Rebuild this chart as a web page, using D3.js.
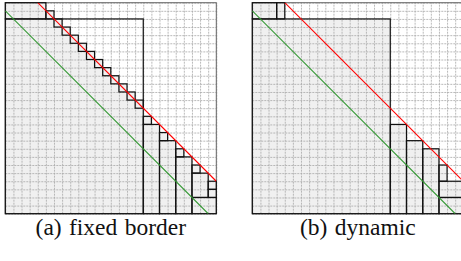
<!DOCTYPE html>
<html>
<head>
<meta charset="utf-8">
<script src="https://cdn.jsdelivr.net/npm/d3@7"></script>
<style>
  body { margin: 0; background: #fff; }
  svg { display: block; }
  .caption { font-family: "Liberation Serif", "Times New Roman", Times, serif; }
</style>
</head>
<body>
<svg id="chart" width="461" height="261"></svg>
<script>
// grid is 26 x 26 cells, coordinates are (column, row), rows going down
const gridCells = 26;
const captions = ["(a) fixed border", "(b) dynamic"];

// top computed row for every column (0..25)
const fixedTop = [0, 0, 0, 0, 0, 1, 2, 3, 4, 5, 6, 7, 8, 9, 10, 11, 12, 14, 15, 16, 17, 18, 19, 20, 21, 22];
const dynamicTop = [0, 0, 0, 0, 2, 2, 2, 2, 2, 2, 2, 2, 2, 2, 2, 2, 2, 15, 15, 17, 17, 18, 18, 20, 22, 22];

// blocks as [col, row, width, height]
const fixedBlocks = [
  [0, 0, 5, 2], [0, 2, 17, 24],
  [5, 1, 1, 1], [6, 2, 1, 1], [7, 3, 1, 1], [8, 4, 1, 1], [9, 5, 1, 1], [10, 6, 1, 1],
  [11, 7, 1, 1], [12, 8, 1, 1], [13, 9, 1, 1], [14, 10, 1, 1], [15, 11, 1, 1], [16, 12, 1, 1],
  [17, 14, 1, 1], [17, 15, 2, 11],
  [19, 16, 1, 1], [19, 17, 2, 9],
  [21, 18, 1, 1], [21, 19, 2, 7],
  [23, 20, 1, 1], [23, 21, 2, 3],
  [25, 22, 1, 1], [25, 23, 1, 1],
  [23, 24, 3, 2]
];
const dynamicBlocks = [
  [0, 0, 3, 2], [3, 0, 1, 2], [0, 2, 17, 24],
  [17, 15, 2, 11], [19, 17, 2, 9], [21, 18, 2, 8],
  [23, 20, 1, 2], [23, 22, 3, 2], [23, 24, 3, 2]
];

// the two diagonal borders, as [col, row] end points
const upperBorder = [[4, 0], [26, 22]];
const lowerBorder = [[0, 1], [25, 26]];

const panelSize = 211;
const panels = [
  { left: 5.3, top: fixedTop, blocks: fixedBlocks, caption: captions[0] },
  { left: 252.3, top: dynamicTop, blocks: dynamicBlocks, caption: captions[1] }
];

const svg = d3.select("#chart");

panels.forEach((p, k) => {
  const x = d3.scaleLinear().domain([0, gridCells]).range([p.left, p.left + panelSize]);
  const y = d3.scaleLinear().domain([0, gridCells]).range([2.7, 2.7 + panelSize]);

  svg.append("clipPath").attr("id", "clip" + k)
    .append("rect")
    .attr("x", x(0)).attr("y", y(0))
    .attr("width", panelSize).attr("height", panelSize);

  const g = svg.append("g");

  // computed cells
  const profile = p.top.map((t, i) => [i, t]);
  profile.push([gridCells, p.top[p.top.length - 1]]);
  g.append("path")
    .datum(profile)
    .attr("fill", "#f0f0f0")
    .attr("d", d3.area()
      .x(d => x(d[0]))
      .y0(y(gridCells))
      .y1(d => y(d[1]))
      .curve(d3.curveStepAfter));

  // dashed cell grid
  const ticks = d3.range(0, gridCells + 1);
  g.append("g")
    .attr("class", "grid")
    .attr("transform", `translate(0,${y(gridCells)})`)
    .call(d3.axisBottom(x).tickValues(ticks).tickSize(-panelSize).tickFormat(""));
  g.append("g")
    .attr("class", "grid")
    .attr("transform", `translate(${x(0)},0)`)
    .call(d3.axisLeft(y).tickValues(ticks).tickSize(-panelSize).tickFormat(""));
  g.selectAll(".grid .domain").remove();
  g.selectAll(".grid line")
    .attr("stroke", "#a8a8a8")
    .attr("stroke-width", 0.8)
    .attr("stroke-dasharray", "2,1");

  // panel frame
  g.append("rect")
    .attr("x", x(0)).attr("y", y(0))
    .attr("width", panelSize).attr("height", panelSize)
    .attr("fill", "none")
    .attr("stroke", "#666")
    .attr("stroke-width", 1);

  // blocks
  g.append("g")
    .selectAll("rect")
    .data(p.blocks)
    .join("rect")
    .attr("x", d => x(d[0]))
    .attr("y", d => y(d[1]))
    .attr("width", d => x(d[0] + d[2]) - x(d[0]))
    .attr("height", d => y(d[1] + d[3]) - y(d[1]))
    .attr("fill", "none")
    .attr("stroke", "#111")
    .attr("stroke-width", 1.2);

  // borders
  const line = d3.line().x(d => x(d[0])).y(d => y(d[1]));
  g.append("path").datum(lowerBorder)
    .attr("clip-path", `url(#clip${k})`)
    .attr("d", line)
    .attr("fill", "none")
    .attr("stroke", "#2f962f")
    .attr("stroke-width", 1.1);
  g.append("path").datum(upperBorder)
    .attr("clip-path", `url(#clip${k})`)
    .attr("d", line)
    .attr("fill", "none")
    .attr("stroke", "#ff0000")
    .attr("stroke-width", 1.1);

  // caption
  svg.append("text")
    .attr("class", "caption")
    .attr("x", p.left + panelSize / 2)
    .attr("y", 235)
    .attr("text-anchor", "middle")
    .attr("font-size", 23.5)
    .attr("fill", "#111")
    .attr("word-spacing", 1.5)
    .text(p.caption);
});
</script>
</body>
</html>
